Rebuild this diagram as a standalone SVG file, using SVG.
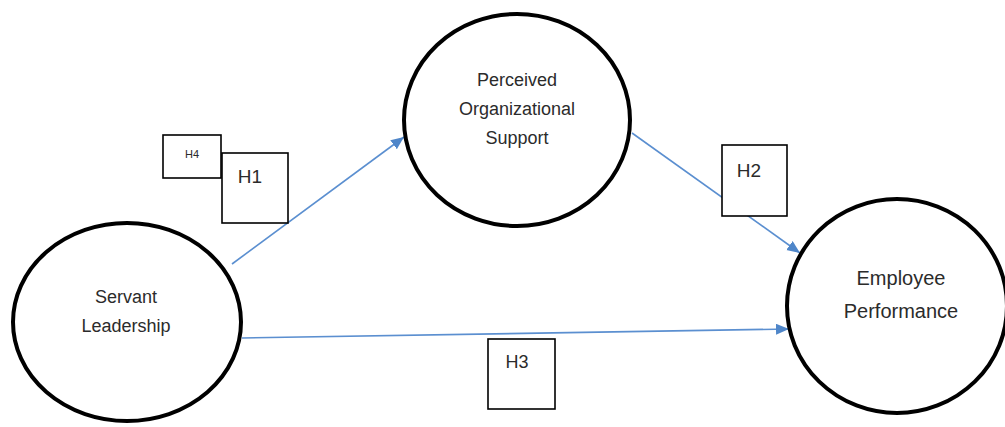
<svg xmlns="http://www.w3.org/2000/svg" width="1005" height="427" viewBox="0 0 1005 427">
<style>
.node{fill:#fff;stroke:#000;stroke-width:4}
.box{fill:#fff;stroke:#000;stroke-width:1.6}
.t{font-family:"Liberation Sans",Arial,sans-serif;fill:#2b2b2b;text-anchor:middle}
.conn{stroke:#5b8fd0;stroke-width:1.6;fill:none}
</style>
<defs>
<marker id="arr" markerUnits="userSpaceOnUse" markerWidth="14" markerHeight="12" refX="13" refY="5.5" orient="auto">
<path d="M0,0 L13,5.5 L0,11 z" fill="#4f86c9"/>
</marker>
</defs>
<g id="connectors">
<line class="conn" x1="232" y1="264" x2="404" y2="137" marker-end="url(#arr)"/>
<line class="conn" x1="632" y1="133" x2="800" y2="253" marker-end="url(#arr)"/>
<line class="conn" x1="242" y1="338" x2="789" y2="329" marker-end="url(#arr)"/>
</g>
<g id="servant-leadership">
<ellipse class="node" cx="127" cy="322" rx="114" ry="99"/>
<text class="t" x="126" y="303" font-size="18">Servant</text>
<text class="t" x="126" y="332" font-size="18">Leadership</text>
</g>
<g id="perceived-organizational-support">
<ellipse class="node" cx="517" cy="120" rx="113" ry="106"/>
<text class="t" x="517" y="86" font-size="18">Perceived</text>
<text class="t" x="517" y="115" font-size="18">Organizational</text>
<text class="t" x="517" y="144" font-size="18">Support</text>
</g>
<g id="employee-performance">
<ellipse class="node" cx="897" cy="306" rx="110" ry="107"/>
<text class="t" x="901" y="285" font-size="20">Employee</text>
<text class="t" x="901" y="318" font-size="20">Performance</text>
</g>
<g id="h4">
<rect class="box" x="163" y="135" width="58" height="43"/>
<text class="t" x="192" y="158" font-size="11">H4</text>
</g>
<g id="h1">
<rect class="box" x="222" y="153" width="66" height="70"/>
<text class="t" x="250" y="183" font-size="19">H1</text>
</g>
<g id="h2">
<rect class="box" x="722" y="145" width="65" height="71"/>
<text class="t" x="749" y="177" font-size="19">H2</text>
</g>
<g id="h3">
<rect class="box" x="488" y="339" width="67" height="70"/>
<text class="t" x="517" y="368" font-size="18">H3</text>
</g>
</svg>
